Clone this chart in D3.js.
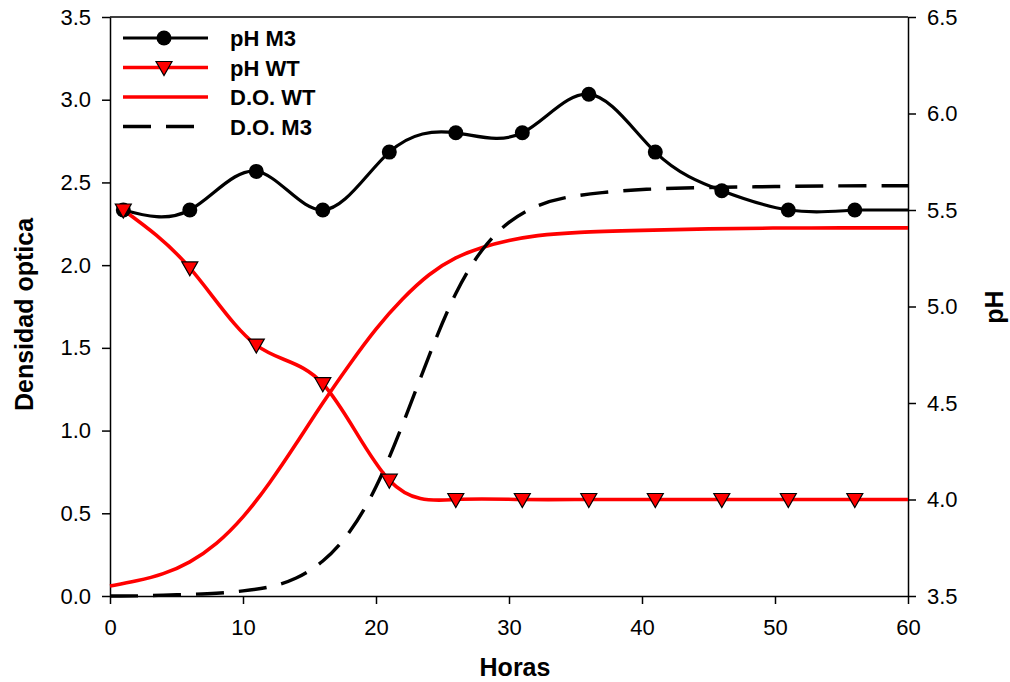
<!DOCTYPE html>
<html lang="en">
<head>
  <meta charset="UTF-8">
  <title>Densidad optica y pH</title>
  <script src="https://d3js.org/d3.v7.min.js"></script>
  <style>
    body {
      margin: 0;
      padding: 0;
      background: #fff;
      font-family: Arial, "Liberation Sans", sans-serif;
    }
    .axis text {
      font-size: 22px;
      fill: #000;
    }
    .axis path, .axis line {
      stroke: #000;
      stroke-width: 1.5px;
    }
    .title {
      font-weight: bold;
      font-size: 25px;
    }
    .legend text {
      font-weight: bold;
      font-size: 22px;
    }
  </style>
</head>
<body>
  <div id="chart"></div>
  <script>
    // pH series (sampled hours)
    const phHours = [1, 6, 11, 16, 21, 26, 31, 36, 41, 46, 51, 56];
    const phM3 = [5.5, 5.5, 5.7, 5.5, 5.8, 5.9, 5.9, 6.1, 5.8, 5.6, 5.5, 5.5];
    const phWT = [5.5, 5.2, 4.8, 4.6, 4.1, 4.0, 4.0, 4.0, 4.0, 4.0, 4.0, 4.0];

    // optical density curves
    const doHours = [0, 2, 4, 6, 8, 10, 12, 14, 16, 18, 20, 22, 24, 26, 28, 30, 32, 35, 40, 45, 50, 55, 60];
    const doWT = [0.06, 0.09, 0.13, 0.20, 0.31, 0.47, 0.68, 0.92, 1.17, 1.40, 1.62, 1.80, 1.95, 2.05, 2.11, 2.15, 2.18, 2.20, 2.21, 2.22, 2.225, 2.225, 2.225];
    const doM3Hours = [0, 2, 4, 6, 8, 10, 12, 14, 16, 18, 20, 22, 24, 26, 28, 30, 32, 34, 37, 40, 45, 50, 55, 60];
    const doM3 = [0.0, 0.0, 0.005, 0.01, 0.015, 0.03, 0.05, 0.10, 0.20, 0.37, 0.64, 1.03, 1.46, 1.85, 2.11, 2.27, 2.36, 2.41, 2.44, 2.46, 2.47, 2.475, 2.48, 2.48];

    const xTicks = [0, 10, 20, 30, 40, 50, 60];
    const leftTicks = [0, 0.5, 1.0, 1.5, 2.0, 2.5, 3.0, 3.5];
    const rightTicks = [3.5, 4.0, 4.5, 5.0, 5.5, 6.0, 6.5];

    const width = 1010, height = 682;
    const margin = { top: 17, right: 102, bottom: 86, left: 110 };
    const innerW = width - margin.left - margin.right;
    const innerH = height - margin.top - margin.bottom;

    const svg = d3.select("#chart").append("svg")
      .attr("width", width)
      .attr("height", height);

    const g = svg.append("g")
      .attr("transform", `translate(${margin.left},${margin.top})`);

    const x = d3.scaleLinear().domain([0, 60]).range([0, innerW]);
    const yL = d3.scaleLinear().domain([0, 3.5]).range([innerH, 0]);
    const yR = d3.scaleLinear().domain([3.5, 6.5]).range([innerH, 0]);

    // frame top line
    g.append("line")
      .attr("x1", 0).attr("x2", innerW)
      .attr("y1", 0).attr("y2", 0)
      .attr("stroke", "#000").attr("stroke-width", 1.5);

    g.append("g").attr("class", "axis")
      .attr("transform", `translate(0,${innerH})`)
      .call(d3.axisBottom(x).tickValues(xTicks).tickSize(8).tickPadding(15).tickSizeOuter(0).tickFormat(d3.format("d")));

    g.append("g").attr("class", "axis")
      .call(d3.axisLeft(yL).tickValues(leftTicks).tickSize(8).tickPadding(11).tickSizeOuter(0).tickFormat(d3.format(".1f")));

    g.append("g").attr("class", "axis")
      .attr("transform", `translate(${innerW},0)`)
      .call(d3.axisRight(yR).tickValues(rightTicks).tickSize(8).tickPadding(11).tickSizeOuter(0).tickFormat(d3.format(".1f")));

    const doLine = d3.line()
      .x(d => x(d[0]))
      .y(d => yL(d[1]))
      .curve(d3.curveBasis);

    const phLine = d3.line()
      .x(d => x(d[0]))
      .y(d => yR(d[1]))
      .curve(d3.curveNatural);

    const flatLine = d3.line()
      .x(d => x(d[0]))
      .y(d => yR(d[1]));

    const doWTpts = doHours.map((h, i) => [h, doWT[i]]);
    const doM3pts = doM3Hours.map((h, i) => [h, doM3[i]]);
    const m3pts = phHours.map((h, i) => [h, phM3[i]]);
    const wtpts = phHours.map((h, i) => [h, phWT[i]]);

    g.append("path").attr("d", doLine(doWTpts))
      .attr("fill", "none").attr("stroke", "#ff0000").attr("stroke-width", 3.6);

    g.append("path").attr("d", doLine(doM3pts))
      .attr("fill", "none").attr("stroke", "#000").attr("stroke-width", 3.4)
      .attr("stroke-dasharray", "28,15");

    function drawPh(pts, color, width) {
      g.append("path").attr("d", phLine(pts))
        .attr("fill", "none").attr("stroke", color).attr("stroke-width", width);
      const last = pts[pts.length - 1];
      g.append("path").attr("d", flatLine([last, [x.domain()[1], last[1]]]))
        .attr("fill", "none").attr("stroke", color).attr("stroke-width", width);
    }

    drawPh(m3pts, "#000", 3.2);
    drawPh(wtpts, "#ff0000", 3.6);

    const tri = "M-8,-6L8,-6L0,8Z";

    g.selectAll(".m3dot").data(m3pts).join("circle")
      .attr("cx", d => x(d[0])).attr("cy", d => yR(d[1]))
      .attr("r", 7.5).attr("fill", "#000");

    g.selectAll(".wttri").data(wtpts).join("path")
      .attr("d", tri)
      .attr("transform", d => `translate(${x(d[0])},${yR(d[1])})`)
      .attr("fill", "#ff0000").attr("stroke", "#000").attr("stroke-width", 1.2);

    // titles
    svg.append("text").attr("class", "title")
      .attr("x", margin.left + innerW / 2 + 6).attr("y", 676)
      .attr("text-anchor", "middle").text("Horas");

    svg.append("text").attr("class", "title")
      .attr("transform", `translate(33,${margin.top + innerH / 2 + 8}) rotate(-90)`)
      .attr("text-anchor", "middle").text("Densidad optica");

    svg.append("text").attr("class", "title")
      .attr("transform", `translate(1003,307) rotate(-90)`)
      .attr("text-anchor", "middle").text("pH");

    // legend
    const legendItems = [
      { label: "pH M3", color: "#000", dash: null, marker: "circle", w: 3.2 },
      { label: "pH WT", color: "#ff0000", dash: null, marker: "tri", w: 3.6 },
      { label: "D.O. WT", color: "#ff0000", dash: null, marker: null, w: 3.6 },
      { label: "D.O. M3", color: "#000", dash: "28,15", marker: null, w: 3.4 }
    ];

    const legend = svg.append("g").attr("class", "legend")
      .attr("transform", "translate(123,38)");

    legendItems.forEach((d, i) => {
      const row = legend.append("g").attr("transform", `translate(0,${i * 29.5})`);
      row.append("line")
        .attr("x1", 0).attr("x2", 85).attr("y1", 0).attr("y2", 0)
        .attr("stroke", d.color).attr("stroke-width", d.w)
        .attr("stroke-dasharray", d.dash);
      if (d.marker === "circle") {
        row.append("circle").attr("cx", 41).attr("r", 7.5).attr("fill", "#000");
      } else if (d.marker === "tri") {
        row.append("path").attr("d", tri).attr("transform", "translate(41,0)")
          .attr("fill", "#ff0000").attr("stroke", "#000").attr("stroke-width", 1.2);
      }
      row.append("text").attr("x", 107).attr("y", 8).text(d.label);
    });
  </script>
</body>
</html>
